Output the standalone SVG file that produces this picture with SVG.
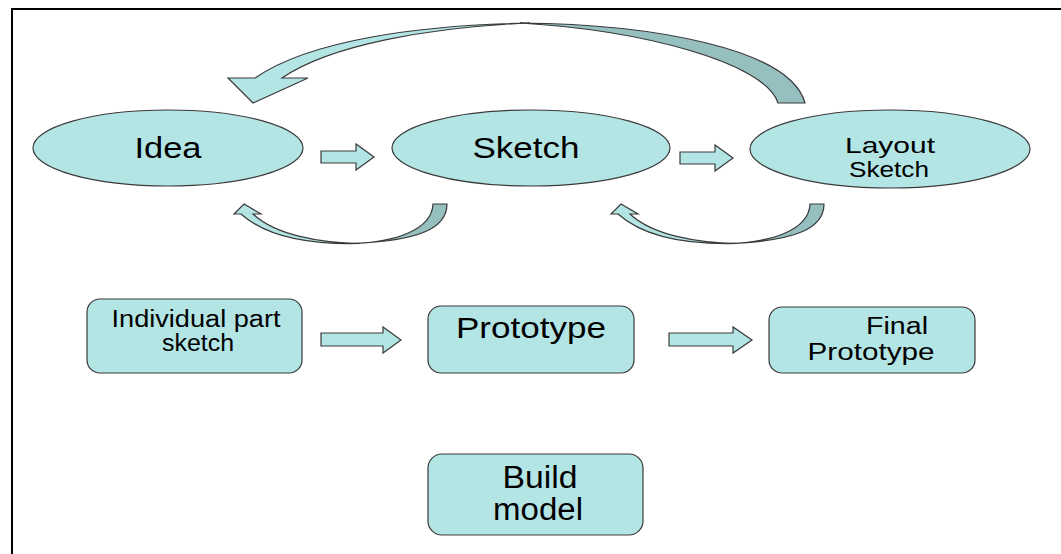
<svg xmlns="http://www.w3.org/2000/svg" width="1061" height="554" viewBox="0 0 1061 554">
  <style>
    .shape { fill: #b4e5e5; stroke: #3a3a3a; stroke-width: 1.2; }
    .back { fill: #96c0c0; stroke: #3a3a3a; stroke-width: 1.2; }
    .arrow { fill: #b4e5e5; stroke: #3a3a3a; stroke-width: 1.2; }
    .label { font-family: "Liberation Sans", Arial, sans-serif; fill: #000; text-anchor: middle; }
    .frame { fill: none; stroke: #000; stroke-width: 2; }
  </style>
  <defs>
    <!-- curved return arrow under an ellipse: light front band with head, darker back band to tail -->
    <g id="curvedUp">
      <path class="back" d="M352,243.5 C395,242 432,230 433,204 L447,204 C447,228 420,241 352,243.5 Z"/>
      <path class="arrow" d="M241,214 L234,214 L244,204 L261,214 L253,214 C275,235 320,243 360,243.5 C320,244.5 270,240 241,214 Z"/>
    </g>
  </defs>

  <!-- outer frame -->
  <path class="frame" d="M12,554 L12,9 L1061,9"/>

  <g id="connectors">
    <!-- large feedback arrow from Layout Sketch back to Idea -->
    <path class="back" d="M520,23 C650,24 790,48 805,103 L778,103 C765,62 640,30 520,23 Z"/>
    <path class="arrow" d="M255,78 L228,78 L253,103 L308,78 L282,78 C330,45 430,27 530,23 C420,25 310,40 255,78 Z"/>
    <!-- small return arrows under the ellipses -->
    <use href="#curvedUp"/>
    <use href="#curvedUp" transform="translate(377,0)"/>
    <!-- block arrows, top row -->
    <path class="arrow" d="M321,151 L356,151 L356,144 L374,157 L356,170 L356,163 L321,163 Z"/>
    <path class="arrow" d="M680,152 L715,152 L715,145 L733,158 L715,171 L715,164 L680,164 Z"/>
    <!-- block arrows, middle row -->
    <path class="arrow" d="M321,333 L383,333 L383,327 L401,340 L383,353 L383,346 L321,346 Z"/>
    <path class="arrow" d="M669,333 L733,333 L733,327 L752,340 L733,353 L733,346 L669,346 Z"/>
  </g>

  <g id="idea">
    <ellipse class="shape" cx="168" cy="148" rx="135" ry="38"/>
    <text class="label" x="168" y="158" font-size="29" textLength="67" lengthAdjust="spacingAndGlyphs">Idea</text>
  </g>
  <g id="sketch">
    <ellipse class="shape" cx="531" cy="148" rx="139" ry="38"/>
    <text class="label" x="526" y="158" font-size="29" textLength="107" lengthAdjust="spacingAndGlyphs">Sketch</text>
  </g>
  <g id="layout-sketch">
    <ellipse class="shape" cx="890" cy="149" rx="140" ry="39"/>
    <text class="label" x="890" y="153" font-size="22" textLength="90" lengthAdjust="spacingAndGlyphs">Layout</text>
    <text class="label" x="889" y="177" font-size="22" textLength="80" lengthAdjust="spacingAndGlyphs">Sketch</text>
  </g>

  <g id="individual-part-sketch">
    <rect class="shape" x="87" y="299" width="215" height="74" rx="13"/>
    <text class="label" x="196" y="327" font-size="23" textLength="169" lengthAdjust="spacingAndGlyphs">Individual part</text>
    <text class="label" x="198" y="351" font-size="23" textLength="72" lengthAdjust="spacingAndGlyphs">sketch</text>
  </g>
  <g id="prototype">
    <rect class="shape" x="428" y="306" width="206" height="67" rx="13"/>
    <text class="label" x="531" y="338" font-size="29" textLength="150" lengthAdjust="spacingAndGlyphs">Prototype</text>
  </g>
  <g id="final-prototype">
    <rect class="shape" x="769" y="307" width="206" height="66" rx="13"/>
    <text class="label" x="897" y="334" font-size="23" textLength="62" lengthAdjust="spacingAndGlyphs">Final</text>
    <text class="label" x="871" y="360" font-size="23" textLength="127" lengthAdjust="spacingAndGlyphs">Prototype</text>
  </g>
  <g id="build-model">
    <rect class="shape" x="428" y="454" width="215" height="81" rx="14"/>
    <text class="label" x="540" y="488" font-size="31" textLength="75" lengthAdjust="spacingAndGlyphs">Build</text>
    <text class="label" x="538" y="520" font-size="31" textLength="90" lengthAdjust="spacingAndGlyphs">model</text>
  </g>
</svg>
